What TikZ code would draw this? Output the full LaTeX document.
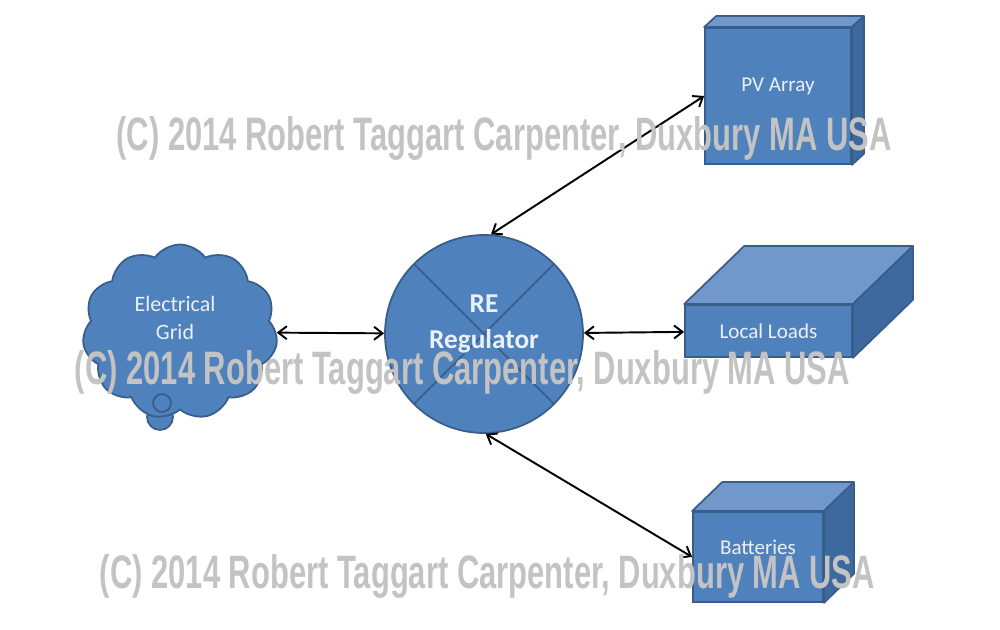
\documentclass[tikz,border=0pt]{standalone}
\usepackage{fontspec}
\setmainfont{Carlito}
\newfontfamily\marcafont{Liberation Sans}
\usetikzlibrary{shapes.symbols, arrows.meta}

\definecolor{cor_azul}{HTML}{4F81BD}
\definecolor{cor_borda}{HTML}{385D8A}
\definecolor{cor_topo}{HTML}{7297CB}
\definecolor{cor_lado}{HTML}{3E699F}
\definecolor{cor_texto}{HTML}{EAF0F8}
\definecolor{cor_marca}{HTML}{C3C3C3}

\begin{document}
\begin{tikzpicture}
        \tikzset{
            face/.style={
                draw=cor_borda,
                fill=cor_azul,
                line width=1pt,
                inner sep=0pt
            },
            topo/.style={draw=cor_borda, fill=cor_topo, line width=1pt, line join=round},
            lado/.style={draw=cor_borda, fill=cor_lado, line width=1pt, line join=round},
            texto/.style={text=cor_texto, align=center, font=\fontsize{12}{16}\selectfont},
            nuvem/.style={
                cloud, cloud puffs=11, cloud puff arc=110, aspect=1.1,
                draw=cor_borda, fill=cor_azul, line width=1pt,
                inner sep=0pt, minimum width=3.9cm, minimum height=3.5cm
            },
            regulador/.style={
                circle, draw=cor_borda, fill=cor_azul, line width=1pt,
                inner sep=0pt, minimum size=3.96cm,
                path picture={
                    \draw[cor_borda, line width=1pt]
                        (path picture bounding box.north west) -- (path picture bounding box.south east)
                        (path picture bounding box.north east) -- (path picture bounding box.south west);
                }
            },
            seta/.style={{Straight Barb[length=1.7mm, width=2.6mm]}-{Straight Barb[length=1.7mm, width=2.6mm]}, line width=1.1pt, black},
            marca/.style={text=cor_marca, inner sep=0pt}
        }
        \useasboundingbox (0,0) rectangle (20,12.58);

        % REDE ELETRICA
        \draw[face] (3.2,4.24) circle (0.26);
        \node[nuvem, label={[texto, xshift=-0.1cm, yshift=0.28cm, font=\fontsize{12.5}{16}\selectfont]center:Electrical\\Grid}] (grid) at (3.6,5.94) {};
        \draw[cor_borda, line width=1pt] (3.24,4.52) circle (0.18);

        % REGULADOR
        \node[regulador, label={[texto, yshift=0.2cm, font=\bfseries\fontsize{15.5}{21}\selectfont]center:RE\\Regulator}] (reg) at (9.68,5.9) {};

        % CAIXAS 3D
        \node[face, minimum width=2.92cm, minimum height=2.72cm, label={[texto, yshift=0.2cm]center:PV Array}] (pv) at (15.56,10.66) {};
        \node[face, minimum width=3.34cm, minimum height=1.04cm, label={[texto]center:Local Loads}] (loads) at (15.37,5.96) {};
        \node[face, minimum width=2.6cm, minimum height=1.8cm, label={[texto, yshift=0.2cm]center:Batteries}] (bat) at (15.16,1.44) {};

        \foreach \caixa/\dx/\dy in {pv/0.24/0.22, loads/1.2/1.16, bat/0.6/0.58} { %TOPO E LADO
            \draw[topo] (\caixa.north west) -- ++(\dx,\dy) -- ([shift={(\dx,\dy)}]\caixa.north east) -- (\caixa.north east) -- cycle;
            \draw[lado] (\caixa.north east) -- ++(\dx,\dy) -- ([shift={(\dx,\dy)}]\caixa.south east) -- (\caixa.south east) -- cycle;
        }

        % SETAS
        \draw[seta] (grid) -- (reg);
        \draw[seta] (reg) -- (loads);
        \draw[seta] (reg.86) -- (pv.west);
        \draw[seta] (reg.-89) -- (bat.west);

        \foreach \n/\x/\y in {1/10.08/9.81, 2/9.25/5.13, 3/9.75/1.05} { %MARCA D'AGUA
            \node[marca] (marca\n) at (\x,\y) {\resizebox{15.5cm}{0.68cm}{\marcafont\bfseries (C) 2014 Robert Taggart Carpenter, Duxbury MA USA}};
        }

    \end{tikzpicture}
\end{document}
